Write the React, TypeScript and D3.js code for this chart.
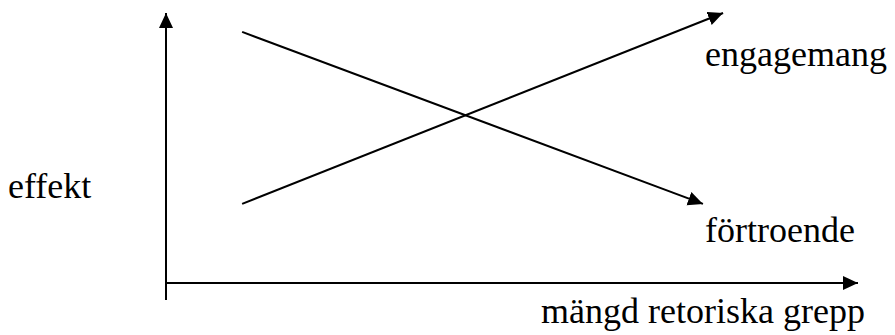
import React, { useRef, useEffect } from "react";
import { select, scaleLinear, line } from "d3";

const WIDTH = 895;
const HEIGHT = 335;
const FONT = "Liberation Serif, Times New Roman, serif";

// series names and their start / end points (in axis units 0..10)
const seriesNames = ["engagemang", "förtroende"];
const seriesX = [
  [1.1, 8.05],
  [1.1, 7.76],
];
const seriesY = [
  [2.93, 10],
  [9.3, 2.93],
];
const yLabel = "effekt";
const xLabel = "mängd retoriska grepp";

const App = () => {
  const ref = useRef<HTMLDivElement>(null);

  useEffect(() => {
    if (!ref.current) return;
    ref.current.innerHTML = "";

    const x = scaleLinear().domain([0, 10]).range([166, 858]);
    const y = scaleLinear().domain([0, 10]).range([283, 13]);

    const svg = select(ref.current)
      .append("svg")
      .attr("width", WIDTH)
      .attr("height", HEIGHT)
      .style("display", "block")
      .style("background", "#fff");

    svg
      .append("defs")
      .append("marker")
      .attr("id", "arrow")
      .attr("markerUnits", "userSpaceOnUse")
      .attr("markerWidth", 16)
      .attr("markerHeight", 15)
      .attr("refX", 15)
      .attr("refY", 7)
      .attr("orient", "auto")
      .append("path")
      .attr("d", "M0,0 L15,7 L0,14 Z")
      .attr("fill", "#000");

    // y axis (sticks out a little below the x axis)
    svg
      .append("line")
      .attr("x1", x(0))
      .attr("y1", 300)
      .attr("x2", x(0))
      .attr("y2", y(10))
      .attr("stroke", "#000")
      .attr("stroke-width", 2)
      .attr("marker-end", "url(#arrow)");

    // x axis
    svg
      .append("line")
      .attr("x1", x(0))
      .attr("y1", y(0))
      .attr("x2", x(10))
      .attr("y2", y(0))
      .attr("stroke", "#000")
      .attr("stroke-width", 2)
      .attr("marker-end", "url(#arrow)");

    const path = line<[number, number]>()
      .x((d) => x(d[0]))
      .y((d) => y(d[1]));

    seriesNames.forEach((name, i) => {
      const pts: [number, number][] = seriesX[i].map((v, j) => [v, seriesY[i][j]]);
      svg
        .append("path")
        .attr("d", path(pts))
        .attr("fill", "none")
        .attr("stroke", "#000")
        .attr("stroke-width", 2)
        .attr("marker-end", "url(#arrow)");
    });

    const text = (tx: number, ty: number, s: string) =>
      svg
        .append("text")
        .attr("x", tx)
        .attr("y", ty)
        .attr("font-family", FONT)
        .attr("font-size", 36)
        .attr("fill", "#000")
        .text(s);

    text(705, 66, seriesNames[0]);
    text(705, 242, seriesNames[1]);
    text(8, 198, yLabel);
    text(541, 323, xLabel);
  }, []);

  return <div ref={ref} style={{ position: "absolute", left: 0, top: 0 }} />;
};

export default App;
